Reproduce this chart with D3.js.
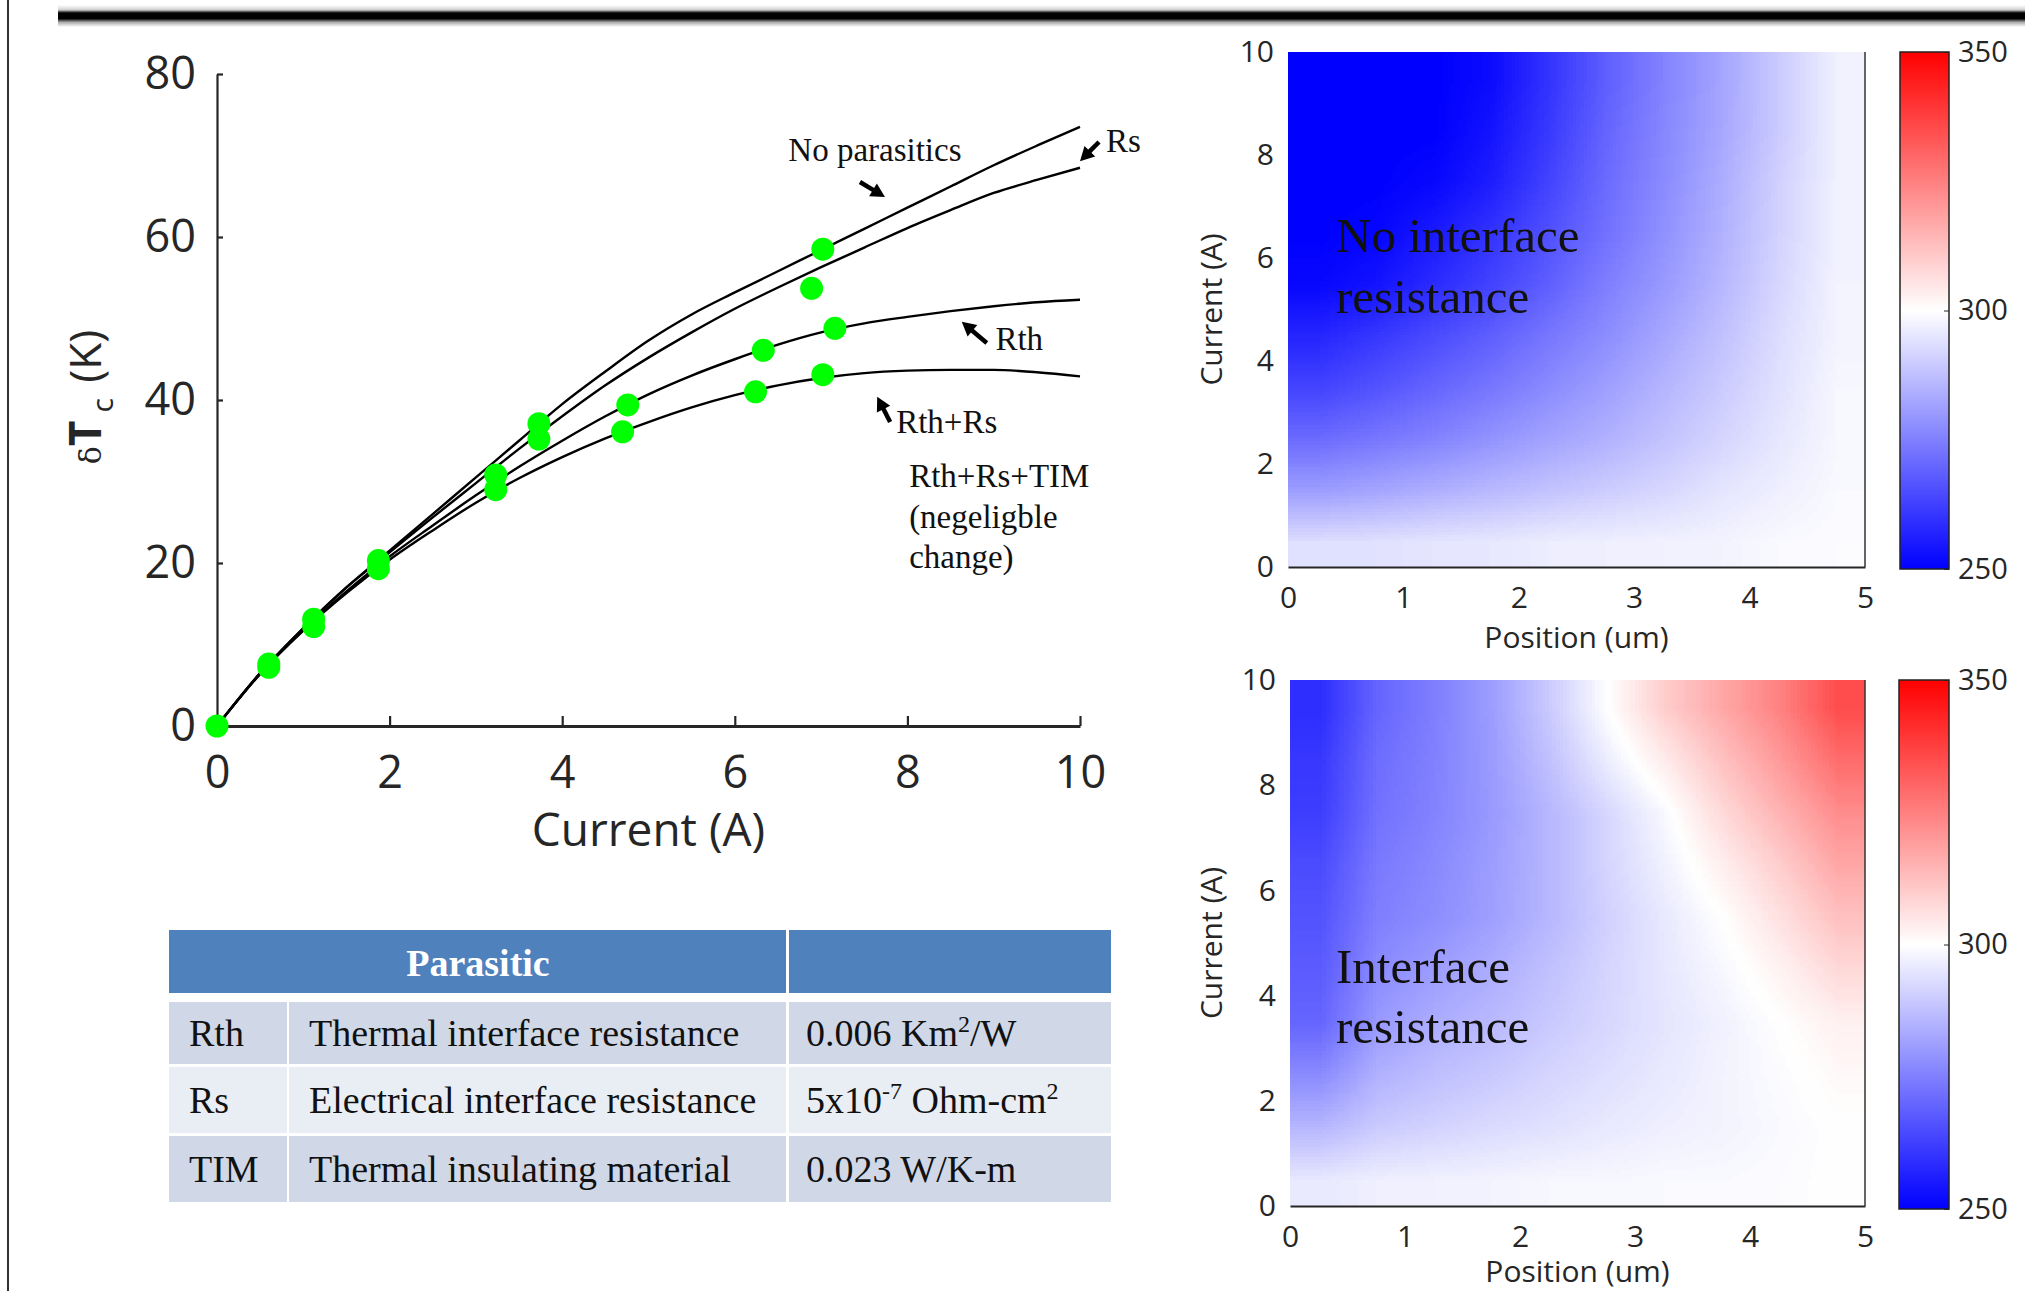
<!DOCTYPE html>
<html>
<head>
<meta charset="utf-8">
<script src="https://cdn.jsdelivr.net/npm/d3@7"></script>
<style>
    html, body { margin: 0; padding: 0; background: #fff; }
    svg { display: block; }
    .serif { font-family: 'Liberation Serif', 'DejaVu Serif', serif; fill: #111; }
    .sans { font-family: 'Open Sans', 'DejaVu Sans', sans-serif; fill: #262626; }
    .heat-image { image-rendering: auto; }
</style>
</head>
<body>
<script>
'use strict';

// ---- values ----

// current (A) at which the model curves were read
const curveCurrents = [0, 0.5, 1, 1.5, 2, 2.5, 3, 3.5, 4, 4.5, 5, 5.5, 6, 6.5, 7, 7.5, 8, 8.5, 9, 9.5, 10];
// delta T_c (K) for each model
const noParasitics = [0, 6.5, 12, 17, 21.5, 26, 30.5, 35, 39.5, 43.5, 47.3, 50.5, 53.2, 55.8, 58.4, 61, 63.6, 66.2, 68.8, 71.2, 73.5];
const withRs = [0, 6.5, 12, 17, 21.3, 25.6, 29.8, 34, 38, 41.8, 45.2, 48.3, 51.2, 53.8, 56.3, 58.7, 61.1, 63.3, 65.4, 67, 68.5];
const withRth = [0, 6.4, 11.8, 16.5, 20.8, 24.6, 28.3, 31.8, 35, 38, 40.7, 43, 45, 46.8, 48.3, 49.4, 50.2, 50.9, 51.5, 52, 52.3];
const withRthRs = [0, 6.4, 11.7, 16.3, 20.4, 24, 27.4, 30.4, 33, 35.3, 37.3, 39.1, 40.6, 41.8, 42.7, 43.3, 43.6, 43.7, 43.7, 43.4, 42.9];
const curveNames = ['No parasitics', 'Rs', 'Rth', 'Rth+Rs'];

// green points
const pointCurrents = [0, 0.6, 0.6, 1.12, 1.12, 1.87, 1.87, 3.23, 3.23, 3.73, 3.73, 4.76, 4.70, 6.33, 6.24, 7.02, 6.89, 7.16, 7.02];
const pointDeltaT = [0, 7.2, 7.6, 12.2, 13.1, 19.3, 20.3, 30.8, 29.0, 37.1, 35.2, 39.4, 36.1, 46.1, 41.0, 58.5, 53.7, 48.8, 43.1];

// heat maps: cell centres, temperature (K), rows from 0.5 A up to 9.5 A
const heatPositions = [0.25, 0.75, 1.25, 1.75, 2.25, 2.75, 3.25, 3.75, 4.25, 4.75];
const heatCurrents = [0.5, 1.5, 2.5, 3.5, 4.5, 5.5, 6.5, 7.5, 8.5, 9.5];
const noInterfaceT = [
    [294, 294.5, 295, 295.5, 296.5, 297, 297.5, 298, 299, 299.5],
    [281, 282.5, 284.5, 286.5, 288.5, 290.5, 292.5, 295, 297, 299],
    [271, 273.5, 276, 279, 282, 285, 288.5, 292, 295.5, 298.5],
    [263.5, 266.5, 270, 273.5, 277.5, 281.5, 285.5, 290, 294.5, 298.5],
    [257.5, 261, 265, 269, 273.5, 278, 283, 288, 293.5, 298],
    [251.5, 254, 258.5, 263.5, 269, 275, 280, 286, 292.5, 298],
    [248, 251, 255, 260, 266, 272.5, 278.5, 285, 291.5, 297.5],
    [246, 248, 251.5, 256, 263.5, 271, 277.5, 284, 291, 297.5],
    [244, 246, 249, 254, 261.5, 270, 276.5, 283, 290, 297.5],
    [243, 245, 248, 252.5, 260, 269, 276, 282.5, 290, 297.5]
];
const interfaceT = [
    [296, 297, 297.5, 298, 298.5, 298.5, 299, 299, 299.5, 300],
    [286, 290, 291.5, 293, 294.5, 296, 297, 298, 299, 300],
    [277.5, 285, 287.5, 289.5, 292, 294, 296, 298, 299.5, 301.5],
    [270, 280, 284, 286.5, 289.5, 292.5, 295, 297.5, 300, 303],
    [268, 277.5, 281, 284, 288, 292, 295.5, 298.5, 302.5, 307.5],
    [266.5, 275, 278, 281.5, 286, 291, 296, 300, 306, 312.5],
    [265, 274, 277, 281, 286, 292, 297.5, 303.5, 310, 317.5],
    [262, 272.5, 276, 280, 286, 292.5, 299, 307.5, 315, 322.5],
    [261, 271.5, 275.5, 280.5, 288, 296.5, 304, 312.5, 320, 329],
    [259, 270, 275, 281, 290, 300, 310, 317.5, 325, 335]
];
const colorStops = [250, 300, 350];
const colorRange = ['#0000ff', '#ffffff', '#ff0000'];

// table
const tableHeader = ['Parasitic', ''];
const tableRows = [
    ['Rth', 'Thermal interface resistance', [['0.006 Km', false], ['2', true], ['/W', false]]],
    ['Rs', 'Electrical interface resistance', [['5x10', false], ['-7', true], [' Ohm-cm', false], ['2', true]]],
    ['TIM', 'Thermal insulating material', [['0.023 W/K-m', false]]]
];

(function () {


    function getLayout() {
        return {
            svg: { width: 2025, height: 1291 },
            curve: { left: 217, right: 1080, top: 74, bottom: 726 },
            heats: [
                { left: 1288, right: 1865, top: 52, bottom: 567, labelGap: 81, bar: { left: 1900, right: 1949, top: 52, bottom: 569 } },
                { left: 1290, right: 1865, top: 680, bottom: 1206, labelGap: 76, bar: { left: 1899, right: 1949, top: 680, bottom: 1209 } }
            ],
            table: {
                cols: [169, 287, 289, 786, 789, 1111],
                header: { top: 930, bottom: 993 },
                rows: [[1002, 1064], [1067, 1133], [1136, 1202]],
                fills: ['#d0d8e8', '#e9edf4', '#d0d8e8']
            }
        };
    }


    /**
     * Thick black rule along the top of the slide, plus the thin left border.
     */
    function appendFrame(svg, layout) {
        const defs = svg.select('defs');
        const grad = defs.append('linearGradient')
            .attr('id', 'ruleGrad')
            .attr('x1', 0).attr('y1', 0).attr('x2', 0).attr('y2', 1);
        [[0, '#ffffff'], [0.22, '#d0d0d0'], [0.36, '#000000'], [0.62, '#000000'], [0.78, '#a8a8a8'], [1, '#ffffff']]
            .forEach(s => grad.append('stop').attr('offset', s[0]).attr('stop-color', s[1]));
        svg.append('rect')
            .attr('x', 58).attr('y', 5)
            .attr('width', layout.svg.width - 58).attr('height', 22)
            .attr('fill', 'url(#ruleGrad)');
        svg.append('line')
            .attr('x1', 8).attr('x2', 8).attr('y1', 0).attr('y2', layout.svg.height)
            .attr('stroke', '#333').attr('stroke-width', 2);
    }


    /**
     * Filter that turns a grey level (0 = 250 K, 1 = 350 K) into the blue-white-red map.
     */
    function appendColorMapFilter(svg) {
        const f = svg.select('defs').append('filter')
            .attr('id', 'bwr')
            .attr('color-interpolation-filters', 'sRGB')
            .attr('x', 0).attr('y', 0).attr('width', 1).attr('height', 1);
        const ct = f.append('feComponentTransfer');
        ct.append('feFuncR').attr('type', 'table').attr('tableValues', '0 1 1');
        ct.append('feFuncG').attr('type', 'table').attr('tableValues', '0 1 0');
        ct.append('feFuncB').attr('type', 'table').attr('tableValues', '1 1 0');
    }


    function styleAxis(g, size) {
        g.attr('font-family', "'Open Sans', 'DejaVu Sans', sans-serif")
            .attr('font-size', size);
        g.selectAll('text').attr('fill', '#262626');
        g.selectAll('line').attr('stroke', '#262626');
        g.select('.domain').attr('stroke', '#262626');
    }


    /**
     * Arrow made of a thick shaft and a filled triangular head ending at (x2,y2).
     */
    function appendArrow(g, x1, y1, x2, y2) {
        const len = Math.hypot(x2 - x1, y2 - y1);
        const ux = (x2 - x1) / len, uy = (y2 - y1) / len;
        const head = 14, half = 7.5;
        const bx = x2 - ux * head, by = y2 - uy * head;
        g.append('line')
            .attr('x1', x1).attr('y1', y1).attr('x2', bx + ux).attr('y2', by + uy)
            .attr('stroke', '#000').attr('stroke-width', 4.5);
        g.append('path')
            .attr('d', 'M' + x2 + ',' + y2 + 'L' + (bx - uy * half) + ',' + (by + ux * half)
                + 'L' + (bx + uy * half) + ',' + (by - ux * half) + 'Z')
            .attr('fill', '#000');
    }


    /**
     * Left panel: delta T_c against current for the four models, with green points.
     */
    function appendCurveChart(svg, layout) {
        const c = layout.curve;
        const x = d3.scaleLinear().domain([0, 10]).range([c.left, c.right]);
        const y = d3.scaleLinear().domain([0, 80]).range([c.bottom, c.top]);
        const g = svg.append('g').attr('class', 'curve-chart');

        const yAxis = g.append('g')
            .attr('transform', 'translate(' + c.left + ',0)')
            .call(d3.axisLeft(y).tickValues([0, 20, 40, 60, 80]).tickSizeInner(-6).tickSizeOuter(0).tickPadding(21));
        styleAxis(yAxis, 45);
        yAxis.select('.domain').attr('stroke-width', 2.2);
        yAxis.selectAll('line').attr('stroke-width', 2.2);

        const xAxis = g.append('g')
            .attr('transform', 'translate(0,' + c.bottom + ')')
            .call(d3.axisBottom(x).tickValues([0, 2, 4, 6, 8, 10]).tickSizeInner(-10).tickSizeOuter(0).tickPadding(30));
        styleAxis(xAxis, 45);
        xAxis.select('.domain').attr('stroke-width', 3.2);
        xAxis.selectAll('line').attr('stroke-width', 2.2);

        g.append('text')
            .attr('class', 'sans')
            .attr('x', (c.left + c.right) / 2)
            .attr('y', 846)
            .attr('text-anchor', 'middle')
            .attr('font-size', 46)
            .text('Current (A)');

        const yl = g.append('text')
            .attr('class', 'sans')
            .attr('transform', 'translate(101,397) rotate(-90)')
            .attr('text-anchor', 'middle')
            .attr('font-size', 44);
        yl.append('tspan').attr('font-family', "'DejaVu Serif', serif").attr('font-size', 30).text('δ');
        yl.append('tspan').attr('font-weight', 'bold').text('T');
        yl.append('tspan').attr('font-size', 30).attr('dy', 12).attr('dx', 8).text('c');
        yl.append('tspan').attr('dy', -12).attr('dx', 4).text(' (K)');

        const series = [noParasitics, withRs, withRth, withRthRs];
        const line = d3.line()
            .x((d, i) => x(curveCurrents[i]))
            .y(d => y(d))
            .curve(d3.curveMonotoneX);
        g.append('g').selectAll('path')
            .data(series)
            .enter()
            .append('path')
            .attr('class', (d, i) => 'model ' + curveNames[i].replace('+', '-'))
            .attr('d', line)
            .attr('fill', 'none')
            .attr('stroke', '#000')
            .attr('stroke-width', 2.4);

        g.append('g').selectAll('circle')
            .data(pointCurrents)
            .enter()
            .append('circle')
            .attr('cx', d => x(d))
            .attr('cy', (d, i) => y(pointDeltaT[i]))
            .attr('r', 11.5)
            .attr('fill', '#00ff00');

        // labels and arrows, placed in data units
        const notes = [
            { text: 'No parasitics', i: 6.62, t: 69.3 },
            { text: 'Rs', i: 10.30, t: 70.4 },
            { text: 'Rth', i: 9.02, t: 46.1 },
            { text: 'Rth+Rs', i: 7.87, t: 35.95 },
            { text: 'Rth+Rs+TIM', i: 8.02, t: 29.3 },
            { text: '(negeligble', i: 8.02, t: 24.3 },
            { text: 'change)', i: 8.02, t: 19.4 }
        ];
        g.append('g').selectAll('text')
            .data(notes)
            .enter()
            .append('text')
            .attr('class', 'serif')
            .attr('x', d => x(d.i))
            .attr('y', d => y(d.t))
            .attr('font-size', 33)
            .text(d => d.text);

        const arrows = [
            [7.45, 66.75, 7.74, 64.9],
            [10.22, 71.66, 10.0, 69.3],
            [8.92, 47.0, 8.63, 49.6],
            [7.80, 37.3, 7.65, 40.4]
        ];
        const ag = g.append('g').attr('class', 'arrows');
        arrows.forEach(a => appendArrow(ag, x(a[0]), y(a[1]), x(a[2]), y(a[3])));
    }


    /**
     * One heat map with its own axes and colour bar.
     * The temperatures go into a tiny grey image (one pixel per cell), which the browser
     * stretches smoothly over the plot area; the 'bwr' filter then colours it.
     */
    function appendHeatMap(svg, box, grid, labelLines, labelBaselines, id) {
        const color = d3.scaleLinear().domain(colorStops).range(colorRange).clamp(true);
        const grey = d3.scaleLinear().domain([colorStops[0], colorStops[2]]).range([0, 255]).clamp(true);
        const x = d3.scaleLinear().domain([0, 5]).range([box.left, box.right]);
        const y = d3.scaleLinear().domain([0, 10]).range([box.bottom, box.top]);
        const g = svg.append('g').attr('class', 'heat ' + id);

        const canvas = document.createElement('canvas');
        canvas.width = heatPositions.length;
        canvas.height = heatCurrents.length;
        const ctx = canvas.getContext('2d');
        grid.forEach((row, j) => {
            row.forEach((v, i) => {
                const k = Math.round(grey(v));
                ctx.fillStyle = d3.rgb(k, k, k).toString();
                ctx.fillRect(i, heatCurrents.length - 1 - j, 1, 1);
            });
        });
        g.append('image')
            .attr('class', 'heat-image')
            .attr('href', canvas.toDataURL())
            .attr('x', x(0))
            .attr('y', y(10))
            .attr('width', x(5) - x(0))
            .attr('height', y(0) - y(10))
            .attr('preserveAspectRatio', 'none')
            .attr('filter', 'url(#bwr)');

        const xAxis = g.append('g')
            .attr('transform', 'translate(0,' + box.bottom + ')')
            .call(d3.axisBottom(x).ticks(5).tickSize(0).tickPadding(20));
        styleAxis(xAxis, 30);
        xAxis.select('.domain').attr('stroke-width', 2.2);

        const yAxis = g.append('g')
            .attr('transform', 'translate(' + box.left + ',0)')
            .call(d3.axisLeft(y).tickValues([0, 2, 4, 6, 8, 10]).tickSize(0).tickPadding(14));
        styleAxis(yAxis, 30);
        yAxis.select('.domain').remove();

        g.append('line')
            .attr('x1', box.right).attr('x2', box.right)
            .attr('y1', box.top).attr('y2', box.bottom)
            .attr('stroke', '#333').attr('stroke-width', 1.5);

        g.append('text')
            .attr('class', 'sans')
            .attr('x', (box.left + box.right) / 2)
            .attr('y', box.bottom + box.labelGap)
            .attr('text-anchor', 'middle')
            .attr('font-size', 30)
            .text('Position (um)');
        g.append('text')
            .attr('class', 'sans')
            .attr('transform', 'translate(1222,' + ((box.top + box.bottom) / 2) + ') rotate(-90)')
            .attr('text-anchor', 'middle')
            .attr('font-size', 30)
            .text('Current (A)');

        g.append('g').selectAll('text')
            .data(labelLines)
            .enter()
            .append('text')
            .attr('class', 'serif')
            .attr('x', 1336)
            .attr('y', (d, i) => labelBaselines[i])
            .attr('font-size', 49)
            .attr('fill', '#000')
            .text(d => d);

        // colour bar
        const b = box.bar;
        const grad = svg.select('defs').append('linearGradient')
            .attr('id', 'bar-' + id)
            .attr('x1', 0).attr('y1', 1).attr('x2', 0).attr('y2', 0);
        colorStops.forEach((v, i) => grad.append('stop')
            .attr('offset', i / (colorStops.length - 1))
            .attr('stop-color', color(v)));
        g.append('rect')
            .attr('x', b.left).attr('y', b.top)
            .attr('width', b.right - b.left).attr('height', b.bottom - b.top)
            .attr('fill', 'url(#bar-' + id + ')')
            .attr('stroke', '#222').attr('stroke-width', 1.5);
        const barScale = d3.scaleLinear().domain([250, 350]).range([b.bottom, b.top]);
        const barAxis = g.append('g')
            .attr('transform', 'translate(' + b.right + ',0)')
            .call(d3.axisRight(barScale).tickValues(colorStops).tickSizeInner(-5).tickSizeOuter(0).tickPadding(9));
        styleAxis(barAxis, 29);
        barAxis.select('.domain').remove();
    }


    /**
     * Parasitic table below the curve chart.
     */
    function appendTable(svg, layout) {
        const t = layout.table;
        const g = svg.append('g').attr('class', 'table');
        g.append('rect')
            .attr('x', t.cols[0]).attr('y', t.header.top)
            .attr('width', t.cols[3] - t.cols[0]).attr('height', t.header.bottom - t.header.top)
            .attr('fill', '#4f81bd');
        g.append('rect')
            .attr('x', t.cols[4]).attr('y', t.header.top)
            .attr('width', t.cols[5] - t.cols[4]).attr('height', t.header.bottom - t.header.top)
            .attr('fill', '#4f81bd');
        g.append('text')
            .attr('class', 'serif')
            .attr('x', 478).attr('y', 976)
            .attr('text-anchor', 'middle')
            .attr('font-size', 38)
            .attr('font-weight', 'bold')
            .style('fill', '#fff')
            .text(tableHeader[0]);

        const cells = [[t.cols[0], t.cols[1]], [t.cols[2], t.cols[3]], [t.cols[4], t.cols[5]]];
        const textX = [189, 309, 806];
        tableRows.forEach((row, r) => {
            const top = t.rows[r][0], bottom = t.rows[r][1];
            cells.forEach(cx => g.append('rect')
                .attr('x', cx[0]).attr('y', top)
                .attr('width', cx[1] - cx[0]).attr('height', bottom - top)
                .attr('fill', t.fills[r]));
            const base = (top + bottom) / 2 + 13;
            g.append('text').attr('class', 'serif').attr('x', textX[0]).attr('y', base)
                .attr('font-size', 38).text(row[0]);
            g.append('text').attr('class', 'serif').attr('x', textX[1]).attr('y', base)
                .attr('font-size', 38).text(row[1]);
            const v = g.append('text').attr('class', 'serif').attr('x', textX[2]).attr('y', base)
                .attr('font-size', 38);
            let raised = false;
            row[2].forEach(part => {
                const sp = v.append('tspan').text(part[0]);
                if (part[1] && !raised) {
                    sp.attr('font-size', 24).attr('dy', -14);
                    raised = true;
                } else if (!part[1] && raised) {
                    sp.attr('dy', 14);
                    raised = false;
                } else if (part[1]) {
                    sp.attr('font-size', 24);
                }
            });
        });
    }


    function draw() {
        const layout = getLayout();
        const svg = d3.select('body').append('svg')
            .attr('width', layout.svg.width)
            .attr('height', layout.svg.height);
        svg.append('defs');
        appendColorMapFilter(svg);
        appendFrame(svg, layout);
        appendCurveChart(svg, layout);
        appendHeatMap(svg, layout.heats[0], noInterfaceT, ['No interface', 'resistance'], [252, 313], 'top');
        appendHeatMap(svg, layout.heats[1], interfaceT, ['Interface', 'resistance'], [983, 1043], 'bottom');
        appendTable(svg, layout);
    }


    draw();


})();
</script>
</body>
</html>
